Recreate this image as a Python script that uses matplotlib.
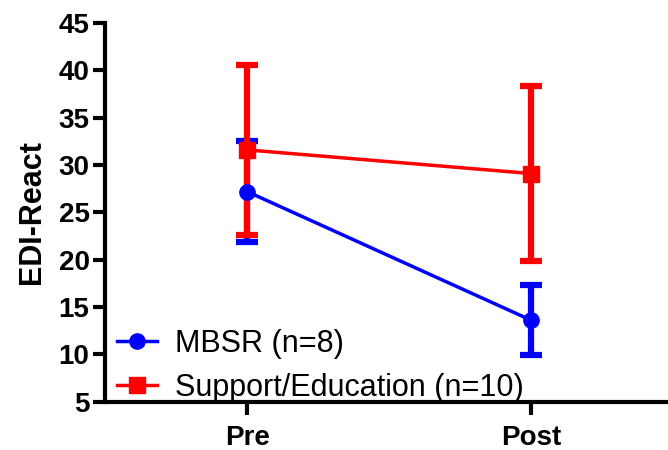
import matplotlib
matplotlib.use('Agg')
import matplotlib.pyplot as plt
from matplotlib.lines import Line2D
import numpy as np

plt.rcParams['font.family'] = ['Liberation Sans', 'DejaVu Sans']

# data
timepoints = ['Pre', 'Post']
mbsr_mean = [27.2, 13.6]
mbsr_err = [5.3, 3.7]
support_mean = [31.6, 29.1]
support_err = [9.0, 9.2]
labels = ['MBSR (n=8)', 'Support/Education (n=10)']

x = np.arange(len(timepoints))

fig = plt.figure(figsize=(6.68, 4.5), dpi=100)
ax = fig.add_axes([0.157, 0.107, 0.843, 0.842])

ax.errorbar(x, mbsr_mean, yerr=mbsr_err, color='#0000ff', lw=2.5, marker='o',
            ms=11, elinewidth=4.5, capsize=8, capthick=4.5)
ax.errorbar(x, support_mean, yerr=support_err, color='#ff0000', lw=2.5, marker='s',
            ms=12, elinewidth=4.5, capsize=8, capthick=4.5)

ax.set_xlim(-0.5, 1.48)
ax.set_ylim(5, 45)
ax.set_yticks(np.arange(5, 46, 5))
ax.set_xticks(x)
ax.set_xticklabels(timepoints)
ax.set_ylabel('EDI-React', fontsize=22, fontweight='bold', labelpad=8)

for s in ['top', 'right']:
    ax.spines[s].set_visible(False)
for s in ['left', 'bottom']:
    ax.spines[s].set_linewidth(3)
ax.tick_params(axis='both', width=3, length=9, direction='out')
ax.tick_params(axis='y', labelsize=20, pad=2)
ax.tick_params(axis='x', labelsize=20, pad=8)
for t in ax.get_xticklabels() + ax.get_yticklabels():
    t.set_fontweight('bold')

handles = [Line2D([], [], color='#0000ff', lw=2.5, marker='o', ms=11),
           Line2D([], [], color='#ff0000', lw=2.5, marker='s', ms=12)]
leg = ax.legend(handles, labels, loc='lower left', frameon=False, fontsize=22,
                handlelength=1.3, borderaxespad=0.0, handletextpad=0.6,
                labelspacing=0.45, bbox_to_anchor=(0.0, -0.035))

fig.savefig('out.png', dpi=100)
